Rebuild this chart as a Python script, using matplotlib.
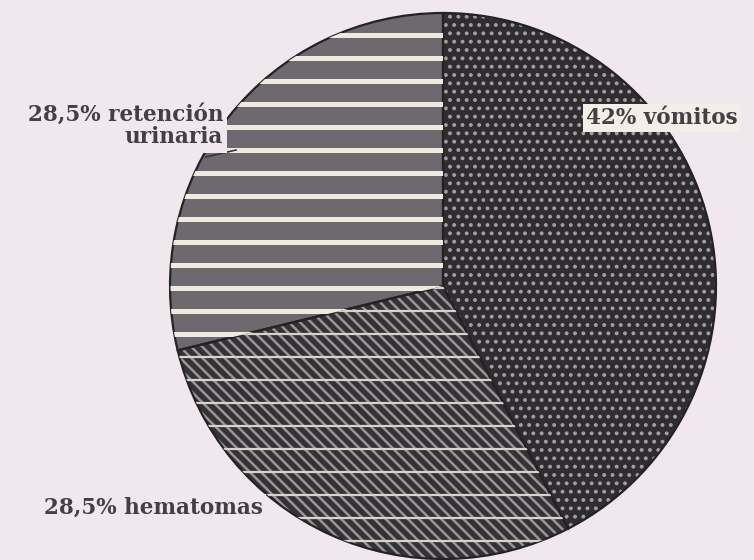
import numpy as np
import matplotlib.pyplot as plt
from matplotlib.patches import Wedge

# Datos del gráfico
labels = ['42% vómitos', '28,5% hematomas', '28,5% retención\nurinaria']
values = [42, 28.5, 28.5]

bg = '#f1e8ee'
face_colors = ['#2f2d2f', '#353235', '#6e696e']

fig = plt.figure(figsize=(7.54, 5.6), dpi=100)
fig.patch.set_facecolor(bg)
ax = fig.add_axes([0, 0, 1, 1])
ax.set_facecolor(bg)

cx, cy, r = 443, 274, 273

wedges, _ = ax.pie(values, center=(cx, cy), radius=r, startangle=90,
                   counterclock=False, colors=face_colors,
                   wedgeprops=dict(edgecolor='none'))

# texturas
w = wedges[0]
plt.rcParams['hatch.linewidth'] = 1.6
ax.add_patch(Wedge(w.center, w.r, w.theta1, w.theta2, fill=False, hatch='..',
                   edgecolor='#a39ea3', linewidth=0))
w = wedges[1]
plt.rcParams['hatch.linewidth'] = 1.8
ax.add_patch(Wedge(w.center, w.r, w.theta1, w.theta2, fill=False, hatch='\\\\\\',
                   edgecolor='#9a949a', linewidth=0))

# rayas horizontales en los sectores de la izquierda
stripe_y = np.arange(cy + r - 22, cy - r, -23)
lc1 = ax.hlines(stripe_y, cx - r, cx + r, colors='#efe9de', linewidth=3.6)
lc1.set_clip_path(wedges[2])
lc2 = ax.hlines(stripe_y, cx - r, cx + r, colors='#d8d2cc', linewidth=1.6)
lc2.set_clip_path(wedges[1])

# contornos
for w in wedges:
    ax.add_patch(Wedge(w.center, w.r, w.theta1, w.theta2, fill=False,
                       edgecolor='#242224', linewidth=1.6))

font = dict(family='DejaVu Serif', fontsize=15.5, fontweight='bold',
            color='#433f43')

ax.text(586, 442, labels[0], ha='left', va='center',
        bbox=dict(facecolor='#f3eee7', edgecolor='none', pad=2), **font)
ax.text(44, 52, labels[1], ha='left', va='center',
        bbox=dict(facecolor=bg, edgecolor='none', pad=2), **font)
ax.text(223, 434, labels[2], ha='right', va='center', multialignment='right',
        linespacing=1.05,
        bbox=dict(facecolor=bg, edgecolor='none', pad=3), **font)
ax.plot([206, 236], [403, 410], color='#3a363a', linewidth=1.2)

ax.set_xlim(0, 754)
ax.set_ylim(0, 560)
ax.set_aspect('auto')
ax.axis('off')

fig.savefig('out.png', dpi=100, facecolor=bg)
